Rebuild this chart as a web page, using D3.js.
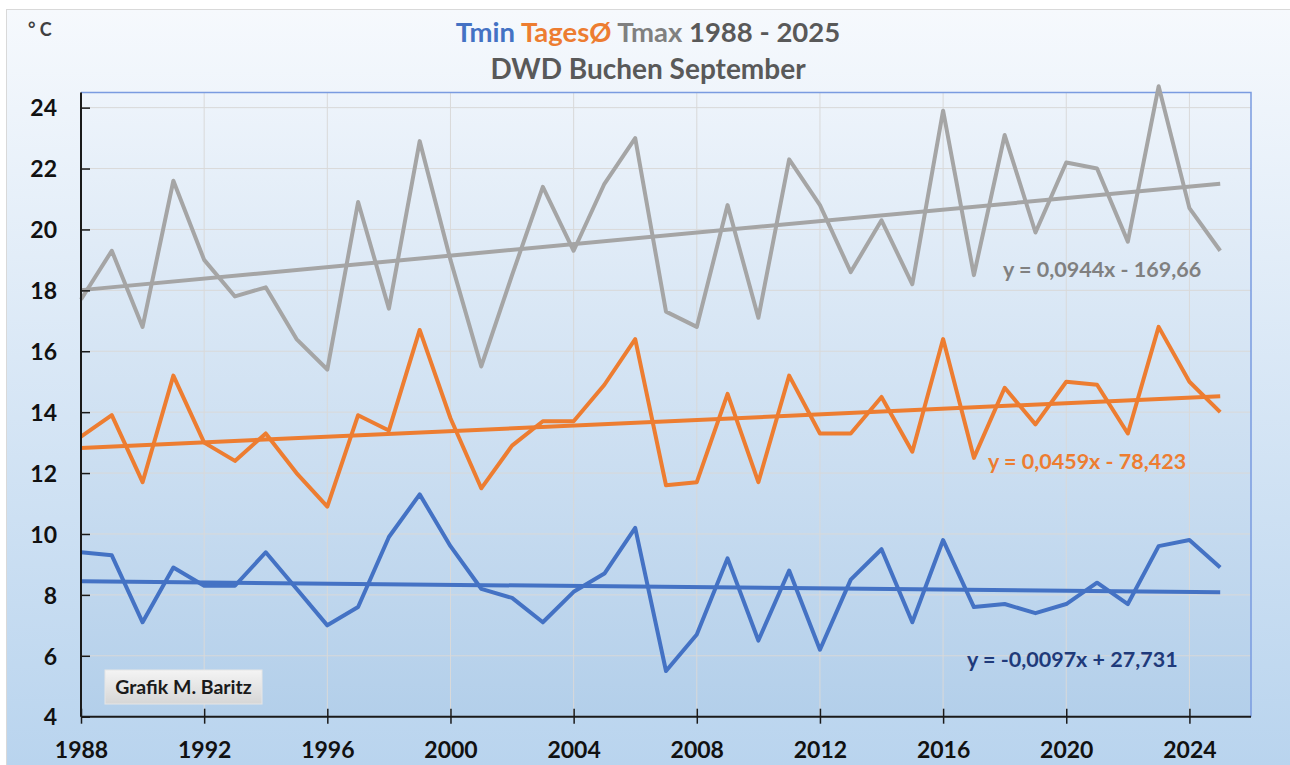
<!DOCTYPE html>
<html>
<head>
<meta charset="utf-8">
<script src="https://d3js.org/d3.v7.min.js"></script>
<style>
  body { margin: 0; background: #ffffff; }
  svg { display: block; }
</style>
</head>
<body>
<div id="chart"></div>
<script>
// data (September, DWD Buchen)
var years = d3.range(1988, 2026);
var tmin  = [9.4, 9.3, 7.1, 8.9, 8.3, 8.3, 9.4, 8.2, 7.0, 7.6,
             9.9, 11.3, 9.6, 8.2, 7.9, 7.1, 8.1, 8.7, 10.2, 5.5,
             6.7, 9.2, 6.5, 8.8, 6.2, 8.5, 9.5, 7.1, 9.8, 7.6,
             7.7, 7.4, 7.7, 8.4, 7.7, 9.6, 9.8, 8.9];
var tages = [13.2, 13.9, 11.7, 15.2, 13.0, 12.4, 13.3, 12.0, 10.9, 13.9,
             13.4, 16.7, 13.8, 11.5, 12.9, 13.7, 13.7, 14.9, 16.4, 11.6,
             11.7, 14.6, 11.7, 15.2, 13.3, 13.3, 14.5, 12.7, 16.4, 12.5,
             14.8, 13.6, 15.0, 14.9, 13.3, 16.8, 15.0, 14.0];
var tmax  = [17.7, 19.3, 16.8, 21.6, 19.0, 17.8, 18.1, 16.4, 15.4, 20.9,
             17.4, 22.9, 19.0, 15.5, 18.5, 21.4, 19.3, 21.5, 23.0, 17.3,
             16.8, 20.8, 17.1, 22.3, 20.8, 18.6, 20.3, 18.2, 23.9, 18.5,
             23.1, 19.9, 22.2, 22.0, 19.6, 24.7, 20.7, 19.3];

// trend lines as printed in the chart: [slope, intercept]
var trendTmin  = [-0.0097, 27.731];
var trendTages = [0.0459, -78.423];
var trendTmax  = [0.0944, -169.66];

var yTicks = [4, 6, 8, 10, 12, 14, 16, 18, 20, 22, 24];
var xTicks = [1988, 1992, 1996, 2000, 2004, 2008, 2012, 2016, 2020, 2024];

var palette = {
  "blue": "#4472C4",
  "orange": "#ED7D31",
  "gray": "#A5A5A5",
  "darkgray": "#595959",
  "midgray": "#808080",
  "navy": "#1F3A7A",
  "grid": "#d9d9d9"
};

var fontFamily = "Lato, 'Open Sans', sans-serif";

var width = 1290, height = 765;
var svg = d3.select("#chart").append("svg")
    .attr("width", width)
    .attr("height", height);

var defs = svg.append("defs");
function gradient(id, c1, c2) {
  var lg = defs.append("linearGradient")
      .attr("id", id)
      .attr("x1", 0).attr("y1", 0).attr("x2", 0).attr("y2", 1);
  lg.append("stop").attr("offset", "0%").attr("stop-color", c1);
  lg.append("stop").attr("offset", "100%").attr("stop-color", c2);
}
gradient("bg", "#f6f9fd", "#b9d4ee");
gradient("plotbg", "#eef4fb", "#b3cfea");
gradient("boxbg", "#f4f4f4", "#d6d6d6");

// chart area
svg.append("rect")
    .attr("x", 6.5).attr("y", 9.5)
    .attr("width", width - 6).attr("height", height - 9)
    .attr("fill", "url(#bg)")
    .attr("stroke", "#d9d9d9");

var pLeft = 81, pRight = 1251, pTop = 92.4, pBottom = 716.7;

var x = d3.scaleLinear().domain([1988, 2026]).range([pLeft, pRight]);
var y = d3.scaleLinear().domain([4, 24.5]).range([pBottom, pTop]);

// plot area
svg.append("rect")
    .attr("x", pLeft).attr("y", pTop)
    .attr("width", pRight - pLeft).attr("height", pBottom - pTop)
    .attr("fill", "url(#plotbg)")
    .attr("stroke", "none");

// grid
svg.append("g").selectAll("line")
    .data(yTicks.slice(1))
    .enter().append("line")
    .attr("x1", pLeft).attr("x2", pRight)
    .attr("y1", function(d) { return y(d); })
    .attr("y2", function(d) { return y(d); })
    .style("stroke", palette.grid)
    .style("stroke-width", 1);

svg.append("g").selectAll("line")
    .data(xTicks.slice(1))
    .enter().append("line")
    .attr("x1", function(d) { return x(d); })
    .attr("x2", function(d) { return x(d); })
    .attr("y1", pTop).attr("y2", pBottom)
    .style("stroke", palette.grid)
    .style("stroke-width", 1);

// plot border, top and right in blue
svg.append("path")
    .attr("d", "M" + pLeft + "," + pTop + "H" + pRight + "V" + pBottom)
    .attr("fill", "none")
    .style("stroke", "#7a9be0")
    .style("stroke-width", 1.5);

// trend lines
function trendLine(coef, color) {
  var pts = [1988, 2025].map(function(t) { return [t, coef[0] * t + coef[1]]; });
  svg.append("path")
      .datum(pts)
      .attr("d", d3.line()
          .x(function(d) { return x(d[0]); })
          .y(function(d) { return y(d[1]); }))
      .attr("fill", "none")
      .style("stroke", color)
      .style("stroke-width", 4);
}

// series
function series(values, color) {
  svg.append("path")
      .datum(values)
      .attr("d", d3.line()
          .x(function(d, i) { return x(years[i]); })
          .y(function(d) { return y(d); }))
      .attr("fill", "none")
      .style("stroke", color)
      .style("stroke-width", 4)
      .style("stroke-linejoin", "round");
}

series(tmax, palette.gray);
trendLine(trendTmax, palette.gray);
series(tages, palette.orange);
trendLine(trendTages, palette.orange);
series(tmin, palette.blue);
trendLine(trendTmin, palette.blue);

// axes
var yAxis = svg.append("g")
    .attr("transform", "translate(" + pLeft + ",0)")
    .call(d3.axisLeft(y).tickValues(yTicks).tickSize(-9).tickPadding(24));
yAxis.select(".domain").attr("d", "M0," + pTop + "V" + pBottom)
    .style("stroke", "#1a1a1a").style("stroke-width", 2);
yAxis.selectAll(".tick line").style("stroke", "#1a1a1a").style("stroke-width", 1.5);
yAxis.selectAll(".tick text")
    .attr("font-family", fontFamily)
    .attr("font-weight", "bold")
    .attr("font-size", "23px")
    .attr("fill", "#111")
    .attr("dy", "0.36em");

var xAxis = svg.append("g")
    .attr("transform", "translate(0," + pBottom + ")")
    .call(d3.axisBottom(x).tickValues(xTicks).tickSize(7).tickFormat(d3.format("d")));
xAxis.select(".domain").attr("d", "M" + pLeft + ",0H" + pRight)
    .style("stroke", "#1a1a1a").style("stroke-width", 2);
xAxis.selectAll(".tick line").attr("y1", -8).attr("y2", 7)
    .style("stroke", "#1a1a1a").style("stroke-width", 1.5);
xAxis.selectAll(".tick text")
    .attr("font-family", fontFamily)
    .attr("font-weight", "bold")
    .attr("font-size", "23px")
    .attr("fill", "#111")
    .attr("y", 41)
    .attr("dy", 0);

// titles
var title = svg.append("text")
    .attr("x", 648).attr("y", 42)
    .attr("text-anchor", "middle")
    .attr("font-family", fontFamily)
    .attr("font-weight", "bold")
    .attr("font-size", "27.5px");
title.append("tspan").attr("fill", palette.blue).text("Tmin ");
title.append("tspan").attr("fill", palette.orange).text("TagesØ ");
title.append("tspan").attr("fill", palette.midgray).text("Tmax ");
title.append("tspan").attr("fill", palette.darkgray).text("1988 - 2025");

svg.append("text")
    .attr("x", 648).attr("y", 79)
    .attr("text-anchor", "middle")
    .attr("font-family", fontFamily)
    .attr("font-weight", "bold")
    .attr("font-size", "28px")
    .attr("fill", palette.darkgray)
    .text("DWD Buchen September");

svg.append("text")
    .attr("x", 28).attr("y", 36)
    .attr("font-family", fontFamily)
    .attr("font-weight", "bold")
    .attr("font-size", "18px")
    .attr("fill", "#404040")
    .text("° C");

// trend equations
function label(txt, lx, ly, color) {
  svg.append("text")
      .attr("x", lx).attr("y", ly)
      .attr("font-family", fontFamily)
      .attr("font-weight", "bold")
      .attr("font-size", "21.5px")
      .attr("fill", color)
      .text(txt);
}
label("y = 0,0944x - 169,66", 1003, 277, palette.midgray);
label("y = 0,0459x - 78,423", 988, 469, palette.orange);
label("y = -0,0097x + 27,731", 967, 667, palette.navy);

// credit box
svg.append("rect")
    .attr("x", 105).attr("y", 670)
    .attr("width", 157).attr("height", 34)
    .attr("fill", "url(#boxbg)")
    .attr("stroke", "#e6e6e6");
svg.append("text")
    .attr("x", 183.5).attr("y", 694)
    .attr("text-anchor", "middle")
    .attr("font-family", fontFamily)
    .attr("font-weight", "bold")
    .attr("font-size", "19.5px")
    .attr("fill", "#1a1a1a")
    .text("Grafik M. Baritz");
</script>
</body>
</html>
